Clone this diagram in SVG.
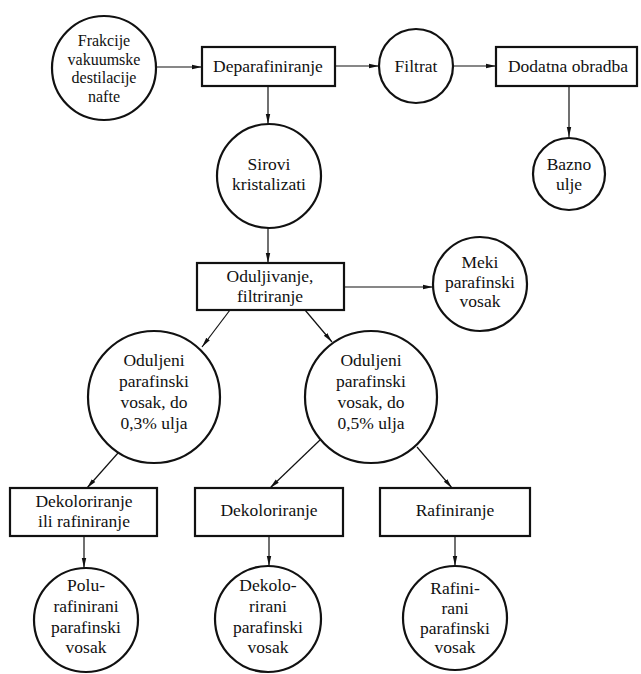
<svg xmlns="http://www.w3.org/2000/svg" width="641" height="674" viewBox="0 0 641 674">
<defs>
<marker id="arr" viewBox="0 0 10 6" refX="10" refY="3" markerWidth="10" markerHeight="6" markerUnits="userSpaceOnUse" orient="auto">
<path d="M0,0.8 L10,3 L0,5.2 Z" fill="#111"/>
</marker>
<style>
.n{fill:#fff;stroke:#111;stroke-width:2.2}
.t{font-family:"Liberation Serif","Times New Roman",Times,serif;font-size:17.5px;fill:#111;text-anchor:middle}
.s{font-size:16px}
.c{fill:none;stroke:#111;stroke-width:1.2;marker-end:url(#arr)}
</style>
</defs>
<rect width="641" height="674" fill="#fff"/>
<g id="connectors">
<line class="c" x1="156" y1="67" x2="202" y2="67"/>
<line class="c" x1="335" y1="66" x2="379" y2="66"/>
<line class="c" x1="453" y1="66" x2="496" y2="66"/>
<line class="c" x1="569" y1="86" x2="569" y2="137"/>
<line class="c" x1="268" y1="86" x2="268" y2="124"/>
<line class="c" x1="268" y1="228" x2="268" y2="263"/>
<line class="c" x1="344" y1="287" x2="433" y2="287"/>
<line class="c" x1="230" y1="310" x2="202" y2="347"/>
<line class="c" x1="305" y1="310" x2="332" y2="342"/>
<line class="c" x1="118" y1="453" x2="87" y2="488"/>
<line class="c" x1="320" y1="440" x2="270" y2="488"/>
<line class="c" x1="417" y1="447" x2="452" y2="488"/>
<line class="c" x1="84" y1="536" x2="84" y2="568"/>
<line class="c" x1="269" y1="536" x2="269" y2="566"/>
<line class="c" x1="455" y1="536" x2="455" y2="566"/>
</g>
<g id="frakcije">
<circle class="n" cx="104" cy="68" r="52"/>
<text class="t s" x="104" y="46">Frakcije</text>
<text class="t s" x="104" y="64.5">vakuumske</text>
<text class="t s" x="104" y="83">destilacije</text>
<text class="t s" x="104" y="101.5">nafte</text>
</g>
<g id="deparafiniranje">
<rect class="n" x="202" y="47" width="133" height="39"/>
<text class="t" x="268" y="72">Deparafiniranje</text>
</g>
<g id="filtrat">
<circle class="n" cx="416" cy="66" r="37"/>
<text class="t" x="416" y="72">Filtrat</text>
</g>
<g id="dodatna">
<rect class="n" x="496" y="47" width="141" height="39"/>
<text class="t" x="568" y="72">Dodatna obradba</text>
</g>
<g id="bazno">
<circle class="n" cx="569" cy="174" r="36"/>
<text class="t" x="569" y="170">Bazno</text>
<text class="t" x="569" y="190">ulje</text>
</g>
<g id="sirovi">
<circle class="n" cx="269" cy="176" r="52"/>
<text class="t" x="269" y="170">Sirovi</text>
<text class="t" x="269" y="190">kristalizati</text>
</g>
<g id="oduljivanje">
<rect class="n" x="197" y="263" width="147" height="47"/>
<text class="t" x="270" y="282">Oduljivanje,</text>
<text class="t" x="270" y="302">filtriranje</text>
</g>
<g id="meki">
<circle class="n" cx="480" cy="284" r="47"/>
<text class="t" x="480" y="268">Meki</text>
<text class="t" x="480" y="288">parafinski</text>
<text class="t" x="480" y="307">vosak</text>
</g>
<g id="oduljeni03">
<circle class="n" cx="154" cy="397" r="66"/>
<text class="t" x="154" y="366">Oduljeni</text>
<text class="t" x="154" y="387">parafinski</text>
<text class="t" x="154" y="408">vosak,  do</text>
<text class="t" x="154" y="429">0,3% ulja</text>
</g>
<g id="oduljeni05">
<circle class="n" cx="371" cy="397" r="66"/>
<text class="t" x="371" y="366">Oduljeni</text>
<text class="t" x="371" y="387">parafinski</text>
<text class="t" x="371" y="408">vosak, do</text>
<text class="t" x="371" y="429">0,5% ulja</text>
</g>
<g id="dekol-rafin">
<rect class="n" x="10" y="488" width="147" height="48"/>
<text class="t" x="84" y="507">Dekoloriranje</text>
<text class="t" x="84" y="527">ili rafiniranje</text>
</g>
<g id="dekoloriranje">
<rect class="n" x="195" y="488" width="148" height="48"/>
<text class="t" x="269" y="516">Dekoloriranje</text>
</g>
<g id="rafiniranje">
<rect class="n" x="380" y="488" width="150" height="48"/>
<text class="t" x="455" y="516">Rafiniranje</text>
</g>
<g id="polu">
<circle class="n" cx="86" cy="620" r="52"/>
<text class="t" x="86" y="591">Polu-</text>
<text class="t" x="86" y="612">rafinirani</text>
<text class="t" x="86" y="633">parafinski</text>
<text class="t" x="86" y="653">vosak</text>
</g>
<g id="dekolo">
<circle class="n" cx="268" cy="619" r="53"/>
<text class="t" x="268" y="591">Dekolo-</text>
<text class="t" x="268" y="612">rirani</text>
<text class="t" x="268" y="633">parafinski</text>
<text class="t" x="268" y="653">vosak</text>
</g>
<g id="rafini">
<circle class="n" cx="455" cy="618" r="52"/>
<text class="t" x="455" y="594">Rafini-</text>
<text class="t" x="455" y="614">rani</text>
<text class="t" x="455" y="634">parafinski</text>
<text class="t" x="455" y="653">vosak</text>
</g>
</svg>
